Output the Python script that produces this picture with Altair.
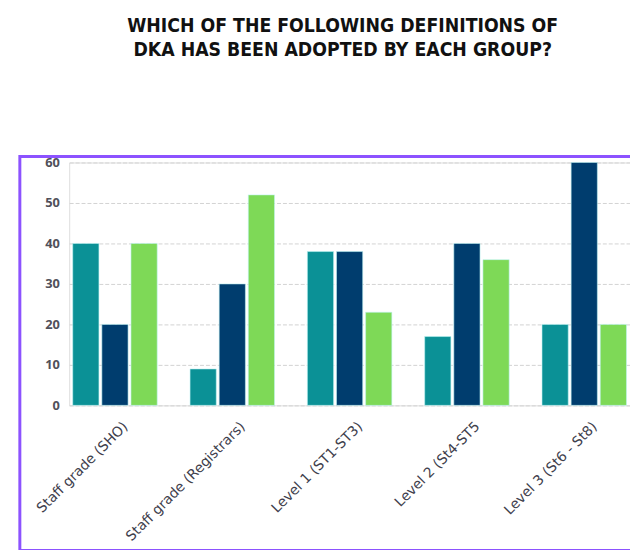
import altair as alt
import pandas as pd

categories = ["Staff grade (SHO)", "Staff grade (Registrars)", "Level 1 (ST1-ST3)",
              "Level 2 (St4-ST5", "Level 3 (St6 - St8)"]
series = ["Definition A", "Definition B", "Definition C"]
values_a = [40, 9, 38, 17, 20]
values_b = [20, 30, 38, 40, 60]
values_c = [40, 52, 23, 36, 20]
colors = ["#0b9196", "#003d6e", "#7ed957"]
y_ticks = [0, 10, 20, 30, 40, 50, 60]
title_lines = ["WHICH OF THE FOLLOWING DEFINITIONS OF", "DKA HAS BEEN ADOPTED BY EACH GROUP?"]

rows = []
for i, c in enumerate(categories):
    for s, vals in zip(series, [values_a, values_b, values_c]):
        rows.append({"group": c, "series": s, "value": vals[i]})
df = pd.DataFrame(rows)

W, H = 568, 246

bars = alt.Chart(df).mark_bar(stroke="#bff3f3", strokeWidth=0.6).encode(
    x=alt.X("group:N", sort=categories,
            scale=alt.Scale(paddingInner=0.28, paddingOuter=0.03),
            axis=alt.Axis(title=None, labelAngle=-45, labelAlign="right", labelBaseline="top",
                          labelFont="DejaVu Sans", labelFontSize=14, labelColor="#40404c",
                          ticks=False, domain=False, grid=False, labelPadding=14,
                          labelOffset=6, labelLimit=400)),
    xOffset=alt.XOffset("series:N", sort=series, scale=alt.Scale(paddingInner=0.1)),
    y=alt.Y("value:Q", scale=alt.Scale(domain=[0, 60], nice=False),
            axis=alt.Axis(title=None, values=y_ticks, labelFont="Open Sans", labelFontSize=13,
                          labelFontWeight="bold", labelColor="#50505a", ticks=False, domain=False,
                          labelPadding=10, gridColor="#d2d2d2", gridDash=[4, 2], gridWidth=1)),
    color=alt.Color("series:N", sort=series, scale=alt.Scale(domain=series, range=colors), legend=None),
)

frame = alt.Chart(pd.DataFrame({"k": [0]})).mark_rect(
    fill=None, stroke="#8c52ff", strokeWidth=3
).encode(
    x=alt.value(-50), x2=alt.value(W + 10), y=alt.value(-6), y2=alt.value(H + 147)
)

chart = alt.layer(bars, frame).properties(
    width=W, height=H,
    title=alt.TitleParams(text=title_lines, anchor="middle", dx=-7, offset=96,
                          font="DejaVu Sans Condensed", fontSize=19.5, fontWeight="bold",
                          color="#111111", lineHeight=24),
    autosize=alt.AutoSizeParams(type="none"),
    padding={"left": 62, "top": 153, "right": 0, "bottom": 143},
).configure_view(strokeWidth=0).configure(background="#ffffff")

chart.save("out.html", embed_options={"renderer": "svg", "actions": False})
